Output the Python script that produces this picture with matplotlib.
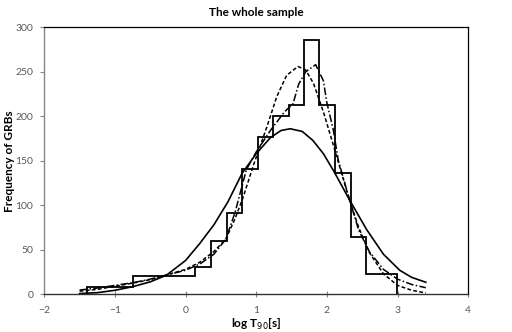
import matplotlib
matplotlib.use("Agg")
import matplotlib.pyplot as plt

# histogram of log T90 (bin edges and counts)
bin_edges = [-1.40, -0.74, 0.14, 0.36, 0.58, 0.80, 1.02, 1.24, 1.47, 1.68, 1.89, 2.12, 2.34, 2.55, 2.99]
bin_counts = [8, 20.5, 31, 60, 91, 141, 177, 200, 213, 286, 213, 136, 64, 23]

# solid fit
solid_x = [-1.5, -1.25, -1.0, -0.75, -0.5, -0.27, 0.0, 0.2, 0.4, 0.6, 0.8, 1.0, 1.2, 1.35, 1.48,
           1.65, 1.8, 1.95, 2.1, 2.32, 2.56, 2.8, 3.03, 3.2, 3.4]
solid_y = [0.8, 1.8, 4.5, 8.5, 14, 21.5, 38, 57, 78, 104, 136, 158, 176, 184, 186,
           183, 173, 158, 138, 106, 73, 45, 27, 19, 13.5]

# short-dashed fit
dash_x = [-1.5, -1.25, -1.0, -0.75, -0.5, -0.3, 0.0, 0.2, 0.4, 0.57, 0.7, 0.81, 0.96, 1.15, 1.29,
          1.43, 1.59, 1.7, 1.81, 1.95, 2.09, 2.2, 2.32, 2.45, 2.6, 2.8, 3.0, 3.2, 3.4]
dash_y = [3.5, 5.5, 9, 12.5, 16.5, 21, 28, 36, 48, 62, 85, 108, 145, 188, 222,
          246, 256, 252, 237, 205, 168, 138, 106, 75, 47, 23, 10, 4.5, 1.5]

# dash-dot fit
dashdot_x = [-1.5, -1.25, -1.0, -0.75, -0.5, -0.3, 0.0, 0.2, 0.4, 0.57, 0.7, 0.86, 1.0, 1.2, 1.4,
             1.52, 1.6, 1.7, 1.84, 1.95, 2.0, 2.09, 2.16, 2.32, 2.45, 2.6, 2.8, 3.0, 3.2, 3.4]
dashdot_y = [4.8, 7, 10, 13, 17, 21, 27, 34, 45, 62, 92, 140, 160, 184, 205,
             214, 236, 250, 258, 240, 215, 185, 151, 106, 72, 48, 28, 17, 11, 7.4]

x_ticks = [-2, -1, 0, 1, 2, 3, 4]
y_ticks = [0, 50, 100, 150, 200, 250, 300]

plt.rcParams["font.family"] = ["Lato", "DejaVu Sans"]

fig = plt.figure(figsize=(5.12, 3.32), dpi=100)
ax = fig.add_axes([0.0865, 0.1136, 0.828, 0.8042])

ax.stairs(bin_counts, bin_edges, baseline=0, color="black", linewidth=1.3)
ax.plot(solid_x, solid_y, color="black", linewidth=1.2)
ax.plot(dash_x, dash_y, color="black", linewidth=1.1, dashes=(2.5, 1.5))
ax.plot(dashdot_x, dashdot_y, color="black", linewidth=1.1, dashes=(5, 1.5, 1, 1.5))

ax.set_xlim(-2, 4)
ax.set_ylim(0, 300)
ax.set_xticks(x_ticks)
ax.set_yticks(y_ticks)
ax.tick_params(axis="x", direction="inout", length=5, width=0.8, color="#868686",
               labelsize=7.5, labelcolor="#595959", pad=6)
ax.tick_params(axis="y", direction="out", length=3, width=0.8, color="#868686",
               labelsize=7.5, labelcolor="#595959", pad=5)

for side in ["top", "right"]:
    ax.spines[side].set_color("black")
    ax.spines[side].set_linewidth(0.9)
ax.spines["left"].set_color("#868686")
ax.spines["bottom"].set_color("#333333")
ax.spines["left"].set_linewidth(1.0)
ax.spines["bottom"].set_linewidth(1.0)

ax.set_title("The whole sample", fontsize=8.5, fontweight="bold", pad=8)
ax.set_xlabel("log T$_{90}$[s]", fontsize=8.5, fontweight="bold", labelpad=1)
ax.set_ylabel("Frequency of GRBs", fontsize=8.5, fontweight="bold")
ax.yaxis.set_label_coords(-0.07, 0.5)

fig.savefig("out.png", dpi=100)
